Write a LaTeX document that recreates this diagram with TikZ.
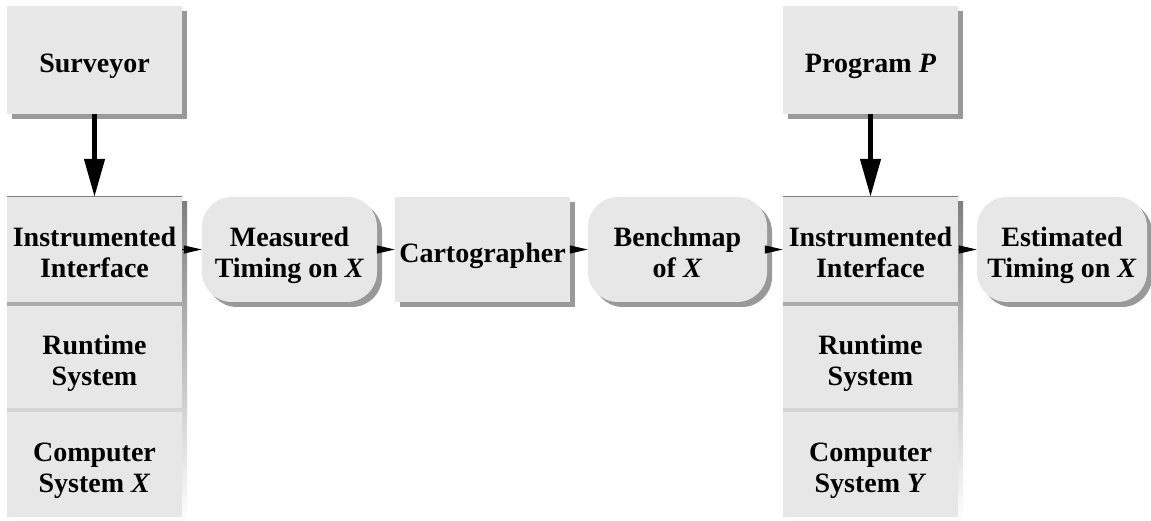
\documentclass[tikz,border=0pt]{standalone}
\usepackage{fontspec}
\setmainfont{Liberation Serif}
\usetikzlibrary{arrows.meta,shadows}
\definecolor{boxfill}{gray}{0.905}
\definecolor{shade}{gray}{0.6}
% centred label block, lowered slightly inside its box
\newcommand\lbl[1]{\raisebox{-13pt}[0pt][0pt]{\begin{tabular}{@{}c@{}}#1\end{tabular}}}
\tikzset{
  cell/.style={rectangle, fill=boxfill, draw=none, inner sep=0pt,
    font=\fontsize{28}{31}\selectfont\bfseries},
  box/.style={cell, drop shadow={shadow xshift=5pt, shadow yshift=-5pt, fill=shade, opacity=1}},
  roundbox/.style={box, rounded corners=30pt},
  fwd/.style={-{Triangle[length=18pt,width=8pt]}, line width=1pt},
  feed/.style={-{Triangle[length=38pt,width=20pt]}, line width=4.5pt},
}
\begin{document}
\begin{tikzpicture}[x=1pt,y=-1pt]
\useasboundingbox (0,0) rectangle (1151,521);

% layered stacks: shadow and separators behind the cells
\fill[shade] (12,202) rectangle (187,522);
\fill[shade] (7,197) rectangle (182,517);
\fill[shade] (788,202) rectangle (963,522);
\fill[shade] (783,197) rectangle (958,517);

% top sources
\node[box, minimum width=175pt, minimum height=108pt] (surv) at (94.5,60) {\lbl{Surveyor}};
\node[box, minimum width=175pt, minimum height=108pt] (prog) at (870.5,60) {\lbl{Program \textit{P}}};

% left stack (machine X)
\node[cell, minimum width=175pt, minimum height=105pt] (if1) at (94.5,249.5) {\lbl{Instrumented\\Interface}};
\node[cell, minimum width=175pt, minimum height=102pt] (rts1) at (94.5,357) {\lbl{Runtime\\System}};
\node[cell, minimum width=175pt, minimum height=105pt] (cs1) at (94.5,464.5) {\lbl{Computer\\System \textit{X}}};

% right stack (machine Y)
\node[cell, minimum width=175pt, minimum height=105pt] (if2) at (870.5,249.5) {\lbl{Instrumented\\Interface}};
\node[cell, minimum width=175pt, minimum height=102pt] (rts2) at (870.5,357) {\lbl{Runtime\\System}};
\node[cell, minimum width=175pt, minimum height=105pt] (cs2) at (870.5,464.5) {\lbl{Computer\\System \textit{Y}}};

% pipeline row
\node[roundbox, minimum width=175pt, minimum height=105pt] (meas) at (289.5,249.5) {\lbl{Measured\\Timing on \textit{X}}};
\node[box, minimum width=175pt, minimum height=105pt] (carto) at (482.5,249.5) {\lbl{Cartographer}};
\node[roundbox, minimum width=179pt, minimum height=105pt] (bench) at (677.5,249.5) {\lbl{Benchmap\\of \textit{X}}};
\node[roundbox, minimum width=170pt, minimum height=105pt] (est) at (1062,249.5) {\lbl{Estimated\\Timing on \textit{X}}};

% connectors
\draw[feed] (surv.south) -- (if1.north);
\draw[feed] (prog.south) -- (if2.north);
\draw[fwd] (if1.east) -- (meas.west);
\draw[fwd] (meas.east) -- (carto.west);
\draw[fwd] (carto.east) -- (bench.west);
\draw[fwd] (bench.east) -- (if2.west);
\draw[fwd] (if2.east) -- (est.west);
\end{tikzpicture}
\end{document}
